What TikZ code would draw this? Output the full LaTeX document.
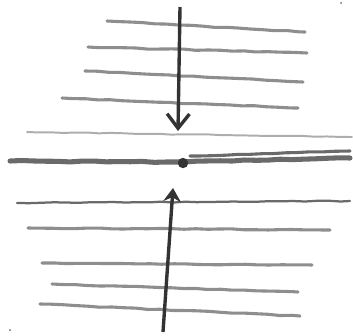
\documentclass[tikz,border=0pt]{standalone}
\usepackage{tikz}
\usetikzlibrary{arrows.meta,decorations.pathmorphing}
\definecolor{SketchGrey}{HTML}{8E8E8E}
\definecolor{SketchLight}{HTML}{ADADAD}
\definecolor{SketchMid}{HTML}{6A6A6A}
\definecolor{SketchDark}{HTML}{333333}
\tikzset{
  strand/.style={draw=SketchGrey,line width=2.2pt,line cap=round,
    decorate,decoration={random steps,segment length=3mm,amplitude=0.12mm}},
  faintstrand/.style={strand,draw=SketchLight,line width=1.4pt},
  boundary/.style={draw=SketchMid,line width=3.6pt,line cap=round,
    decorate,decoration={random steps,segment length=3mm,amplitude=0.15mm}},
  downarrow/.style={-{Straight Barb[length=3.6mm,width=5.6mm]},line width=2.4pt,draw=SketchDark},
  uparrow/.style={-{Stealth[length=3.4mm,width=4.4mm]},line width=2.4pt,draw=SketchDark,fill=SketchDark},
  junction/.style={circle,fill=SketchDark,draw=none,minimum size=2.6mm,inner sep=0pt},
  speck/.style={circle,fill=SketchMid,draw=none,minimum size=0.5mm,inner sep=0pt}
}
\begin{document}
\begin{tikzpicture}[x=0.25mm,y=-0.25mm]
  % pixel grid of the sketch, y counted downwards
  \useasboundingbox (0,0) rectangle (353,335);

  % layers above the boundary
  \draw[strand] (107,21) -- (305,32);
  \draw[strand] (88,47) -- (307,53);
  \draw[strand] (85,71) -- (303,82);
  \draw[strand] (62,98) -- (298,108);
  \draw[faintstrand] (27,132) -- (352,137);

  % the boundary itself
  \draw[boundary] (10,161) -- (182,162);
  \draw[boundary] (184,162) -- (350,158);
  \draw[strand,draw=SketchMid] (190,156) -- (350,151);

  % layers below the boundary
  \draw[strand,line width=1.6pt,draw=SketchMid] (17,203) -- (350,201);
  \draw[strand] (28,228) -- (330,230);
  \draw[strand] (42,263) -- (312,265);
  \draw[strand] (52,284) -- (298,292);
  \draw[strand] (40,304) -- (300,316);

  \node[junction] (meet) at (183,163) {};
  \coordinate (top) at (180,7);
  \coordinate (topTip) at (178,131);
  \coordinate (base) at (163,332);
  \coordinate (baseTip) at (173,188);

  \draw[downarrow] (top) -- (topTip);
  \draw[uparrow] (base) -- (baseTip);

  \node[speck] (speckA) at (10,330) {};
  \node[speck] (speckB) at (341,3) {};
\end{tikzpicture}
\end{document}
